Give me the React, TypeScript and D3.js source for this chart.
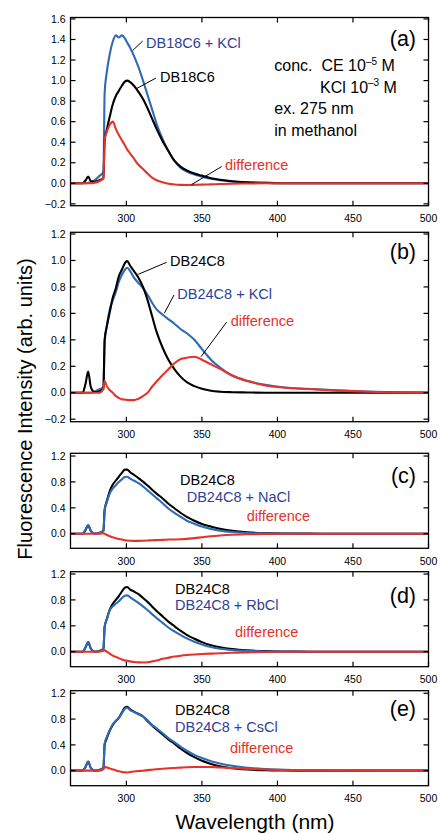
import React from "react";
import * as d3 from "d3";

// wavelength grid (nm) shared by every spectrum
const wavelengths = [263, 271, 273, 274.7, 276.5, 279, 282, 284.8, 285.6, 287, 289, 291, 293, 295, 297, 299, 300.5, 302.5, 305, 308, 311, 314, 317, 320, 324, 328, 332, 336, 340, 345, 350, 356, 362, 370, 380, 392, 405, 420, 440, 465, 500];

// (a) DB18C6 / DB18C6 + KCl
const aBlack = [0, 0, 0.03, 0.065, 0.02, 0.015, 0.03, 0.05, 0.42, 0.52, 0.65, 0.77, 0.85, 0.9, 0.95, 0.99, 1.0, 0.985, 0.95, 0.89, 0.82, 0.73, 0.63, 0.53, 0.41, 0.31, 0.215, 0.16, 0.125, 0.095, 0.075, 0.05, 0.035, 0.02, 0.01, 0.004, 0.001, 0, 0, 0, 0];
const aBlue = [0, 0, 0, 0.005, 0.01, 0.03, 0.07, 0.11, 0.88, 1.08, 1.26, 1.38, 1.44, 1.42, 1.44, 1.41, 1.37, 1.32, 1.24, 1.13, 1.0, 0.86, 0.72, 0.58, 0.43, 0.31, 0.215, 0.15, 0.115, 0.085, 0.065, 0.045, 0.03, 0.018, 0.009, 0.004, 0.001, 0, 0, 0, 0];
const aRed = [0, 0, 0, 0, 0, 0.005, 0.02, 0.05, 0.43, 0.5, 0.57, 0.6, 0.53, 0.47, 0.42, 0.37, 0.33, 0.29, 0.24, 0.18, 0.14, 0.095, 0.055, 0.03, 0.01, -0.005, -0.012, -0.015, -0.016, -0.015, -0.013, -0.01, -0.007, -0.004, -0.002, 0, 0, 0, 0, 0, 0];

// (b) DB24C8 / DB24C8 + KCl
const bBlack = [0, 0, 0.07, 0.16, 0.04, 0.005, 0.01, 0.03, 0.4, 0.5, 0.61, 0.72, 0.79, 0.88, 0.93, 0.98, 0.995, 0.96, 0.92, 0.87, 0.8, 0.7, 0.58, 0.46, 0.34, 0.245, 0.175, 0.12, 0.08, 0.05, 0.03, 0.015, 0.008, 0.004, 0.002, 0, 0, 0, 0, 0, 0];
const bBlue = [0, 0, 0, 0, 0, 0.01, 0.025, 0.045, 0.38, 0.5, 0.63, 0.7, 0.76, 0.84, 0.89, 0.93, 0.945, 0.92, 0.87, 0.83, 0.79, 0.74, 0.68, 0.63, 0.59, 0.555, 0.52, 0.48, 0.45, 0.4, 0.33, 0.25, 0.19, 0.13, 0.09, 0.06, 0.04, 0.03, 0.018, 0.007, 0.002];
const bRed = [0, 0, 0, 0, 0, 0, 0, 0.03, 0.09, 0.05, 0.02, 0, -0.025, -0.04, -0.05, -0.052, -0.054, -0.056, -0.056, -0.045, -0.025, 0, 0.045, 0.085, 0.134, 0.18, 0.225, 0.255, 0.265, 0.272, 0.25, 0.215, 0.18, 0.13, 0.088, 0.055, 0.038, 0.028, 0.016, 0.006, 0];

// (c) + NaCl
const cBlack = [0, 0, 0.06, 0.13, 0.04, 0, 0.01, 0.045, 0.37, 0.5, 0.66, 0.76, 0.82, 0.88, 0.94, 0.99, 0.99, 0.95, 0.91, 0.86, 0.805, 0.745, 0.68, 0.62, 0.545, 0.46, 0.39, 0.32, 0.26, 0.2, 0.15, 0.11, 0.075, 0.045, 0.022, 0.01, 0.004, 0.001, 0, 0, 0];
const cBlue = [0, 0, 0.07, 0.135, 0.045, 0.003, 0.012, 0.045, 0.36, 0.48, 0.62, 0.7, 0.75, 0.8, 0.84, 0.875, 0.88, 0.85, 0.82, 0.78, 0.73, 0.67, 0.61, 0.55, 0.47, 0.385, 0.32, 0.26, 0.2, 0.155, 0.11, 0.075, 0.048, 0.027, 0.012, 0.005, 0.002, 0, 0, 0, 0];
const cRed = [0, 0, 0, 0, 0, 0, 0, 0.005, 0, -0.02, -0.04, -0.055, -0.07, -0.08, -0.09, -0.1, -0.105, -0.108, -0.11, -0.11, -0.108, -0.105, -0.1, -0.098, -0.095, -0.09, -0.088, -0.085, -0.08, -0.068, -0.055, -0.04, -0.028, -0.016, -0.008, -0.003, -0.001, 0, 0, 0, 0];

// (d) + RbCl
const dBlack = [0, 0, 0.07, 0.15, 0.045, 0, 0.01, 0.04, 0.38, 0.5, 0.65, 0.74, 0.8, 0.86, 0.93, 0.99, 1.0, 0.96, 0.93, 0.89, 0.83, 0.77, 0.7, 0.63, 0.545, 0.46, 0.39, 0.32, 0.26, 0.2, 0.148, 0.1, 0.068, 0.04, 0.02, 0.008, 0.003, 0, 0, 0, 0];
const dBlue = [0, 0, 0.07, 0.15, 0.045, 0, 0.01, 0.04, 0.39, 0.5, 0.64, 0.7, 0.74, 0.78, 0.83, 0.865, 0.87, 0.84, 0.8, 0.755, 0.7, 0.645, 0.58, 0.52, 0.445, 0.37, 0.31, 0.255, 0.205, 0.155, 0.112, 0.072, 0.045, 0.025, 0.012, 0.004, 0.001, 0, 0, 0, 0];
const dRed = [0, 0, 0, 0, 0, 0, 0, 0.015, 0.02, 0, -0.03, -0.06, -0.08, -0.1, -0.12, -0.135, -0.14, -0.15, -0.16, -0.165, -0.166, -0.163, -0.15, -0.135, -0.11, -0.092, -0.075, -0.062, -0.052, -0.043, -0.036, -0.03, -0.025, -0.016, -0.01, -0.005, -0.002, 0, 0, 0, 0];

// (e) + CsCl
const eBlack = [0, 0, 0.06, 0.14, 0.04, 0, 0.01, 0.04, 0.4, 0.5, 0.62, 0.71, 0.77, 0.82, 0.9, 0.98, 0.99, 0.95, 0.915, 0.88, 0.84, 0.77, 0.7, 0.64, 0.56, 0.48, 0.415, 0.34, 0.275, 0.21, 0.155, 0.105, 0.068, 0.038, 0.018, 0.007, 0.002, 0, 0, 0, 0];
const eBlue = [0, 0, 0.06, 0.14, 0.04, 0, 0.01, 0.04, 0.42, 0.52, 0.63, 0.72, 0.77, 0.82, 0.89, 0.96, 0.975, 0.94, 0.91, 0.875, 0.84, 0.78, 0.71, 0.655, 0.58, 0.5, 0.44, 0.37, 0.31, 0.245, 0.195, 0.145, 0.11, 0.075, 0.045, 0.025, 0.012, 0.006, 0.002, 0, 0];
const eRed = [0, 0, 0, 0, 0, 0, 0, 0.02, 0.06, 0.05, 0.035, 0.02, 0.005, -0.01, -0.02, -0.025, -0.028, -0.02, -0.012, -0.005, 0, 0.008, 0.015, 0.022, 0.03, 0.037, 0.042, 0.047, 0.052, 0.056, 0.058, 0.056, 0.05, 0.04, 0.028, 0.018, 0.01, 0.005, 0.002, 0, 0];

const xTicks = [300, 350, 400, 450, 500];
const yTicksA = [-0.2, 0, 0.2, 0.4, 0.6, 0.8, 1.0, 1.2, 1.4, 1.6];
const yTicksB = [-0.2, 0, 0.2, 0.4, 0.6, 0.8, 1.0, 1.2];
const yTicksSmall = [0, 0.4, 0.8, 1.2];

const FONT = "'Liberation Sans', Arial, Helvetica, sans-serif";
const BLUE = "#2f6bb5";
const BLUE_TEXT = "#2e3f9c";
const RED = "#e5332a";
const X0 = 70.5;
const X1 = 428.5;
const TICK = 5;

const x = d3.scaleLinear().domain([263, 500]).range([X0, X1]);

const panels = [
  {
    tag: "(a)", top: 17.5, bottom: 205.7, yMin: -0.218, yMax: 1.614, yTicks: yTicksA, tagY: 45.5,
    lines: [["blue", aBlue], ["black", aBlack], ["red", aRed]],
    labels: [
      { t: "DB18C6 + KCl", x: 146, y: 47.5, c: BLUE_TEXT, lead: [142.7, 41, 132.7, 50.5] },
      { t: "DB18C6", x: 160, y: 81.5, c: "#000", lead: [156, 78, 136.7, 88.5] },
      { t: "difference", x: 225, y: 170, c: RED, lead: [221.7, 166.5, 191.7, 184.5] },
    ],
  },
  {
    tag: "(b)", top: 232.3, bottom: 421.7, yMin: -0.219, yMax: 1.213, yTicks: yTicksB, tagY: 259,
    lines: [["blue", bBlue], ["black", bBlack], ["red", bRed]],
    labels: [
      { t: "DB24C8", x: 170, y: 266, c: "#000", lead: [166.7, 262.3, 138.3, 274.3] },
      { t: "DB24C8 + KCl", x: 177.3, y: 298.5, c: BLUE_TEXT, lead: [174, 295, 164.3, 313.3] },
      { t: "difference", x: 230.7, y: 326, c: RED, lead: [226.7, 322, 201, 356.7] },
    ],
  },
  {
    tag: "(c)", top: 453.3, bottom: 548.3, yMin: -0.225, yMax: 1.242, yTicks: yTicksSmall, tagY: 483,
    lines: [["black", cBlack], ["blue", cBlue], ["red", cRed]],
    labels: [
      { t: "DB24C8", x: 180, y: 484.5, c: "#000" },
      { t: "DB24C8 + NaCl", x: 186.7, y: 502, c: BLUE_TEXT },
      { t: "difference", x: 246.7, y: 521, c: RED },
    ],
  },
  {
    tag: "(d)", top: 571.7, bottom: 666.7, yMin: -0.232, yMax: 1.236, yTicks: yTicksSmall, tagY: 602.5,
    lines: [["black", dBlack], ["blue", dBlue], ["red", dRed]],
    labels: [
      { t: "DB24C8", x: 175, y: 593.5, c: "#000" },
      { t: "DB24C8 + RbCl", x: 175, y: 610, c: BLUE_TEXT },
      { t: "difference", x: 235, y: 637, c: RED },
    ],
  },
  {
    tag: "(e)", top: 690.7, bottom: 785.7, yMin: -0.233, yMax: 1.24, yTicks: yTicksSmall, tagY: 715.5,
    lines: [["black", eBlack], ["blue", eBlue], ["red", eRed]],
    labels: [
      { t: "DB24C8", x: 175, y: 714.5, c: "#000" },
      { t: "DB24C8 + CsCl", x: 175, y: 732, c: BLUE_TEXT },
      { t: "difference", x: 230, y: 753, c: RED },
    ],
  },
];

const colorOf = { black: "#000", blue: BLUE, red: RED };

function Panel({ p }) {
  const y = d3.scaleLinear().domain([p.yMin, p.yMax]).range([p.bottom, p.top]);
  const fmt = d3.format(".1f");
  return (
    <g>
      <defs>
        <clipPath id={"clip" + p.tag}>
          <rect x={X0} y={p.top} width={X1 - X0} height={p.bottom - p.top} />
        </clipPath>
      </defs>
      <g clipPath={`url(#clip${p.tag})`}>
        {p.lines.map(([name, vals]) => {
          const line = d3
            .line()
            .x((d, i) => x(wavelengths[i]))
            .y((d) => y(d))
            .curve(d3.curveMonotoneX);
          return (
            <path key={name} d={line(vals)} fill="none" stroke={colorOf[name]} strokeWidth={2.1} strokeLinejoin="round" />
          );
        })}
      </g>
      <rect x={X0} y={p.top} width={X1 - X0} height={p.bottom - p.top} fill="none" stroke="#000" strokeWidth={1.3} />
      {xTicks.map((t) => (
        <g key={"x" + t}>
          <line x1={x(t)} x2={x(t)} y1={p.bottom} y2={p.bottom - TICK} stroke="#000" strokeWidth={1.2} />
          <line x1={x(t)} x2={x(t)} y1={p.top} y2={p.top + TICK} stroke="#000" strokeWidth={1.2} />
          <text x={x(t)} y={p.bottom + 16.5} textAnchor="middle" fontSize={10.5} fontFamily={FONT}>{t}</text>
        </g>
      ))}
      {p.yTicks.map((t) => (
        <g key={"y" + t}>
          <line x1={X0} x2={X0 + TICK} y1={y(t)} y2={y(t)} stroke="#000" strokeWidth={1.2} />
          <line x1={X1} x2={X1 - TICK} y1={y(t)} y2={y(t)} stroke="#000" strokeWidth={1.2} />
          <text x={X0 - 5} y={y(t)} dy="0.35em" textAnchor="end" fontSize={10.5} fontFamily={FONT}>{fmt(t)}</text>
        </g>
      ))}
      <text x={416} y={p.tagY} textAnchor="end" fontSize={21.5} fontFamily={FONT}>{p.tag}</text>
      {p.labels.map((l) => (
        <g key={l.t}>
          <text x={l.x} y={l.y} fill={l.c} fontSize={14.5} fontFamily={FONT}>{l.t}</text>
          {l.lead && (
            <line x1={l.lead[0]} y1={l.lead[1]} x2={l.lead[2]} y2={l.lead[3]} stroke="#000" strokeWidth={1} />
          )}
        </g>
      ))}
    </g>
  );
}

export default function App() {
  return (
    <svg width={438} height={834} style={{ position: "absolute", left: 0, top: 0, background: "#fff" }}>
      <rect width={438} height={834} fill="#fff" />
      {panels.map((p) => (
        <Panel key={p.tag} p={p} />
      ))}
      <g fontFamily={FONT} fontSize={16}>
        <text x={274.3} y={71} xmlSpace="preserve">
          {"conc.  CE 10"}
          <tspan fontSize={10} dy={-6.5}>{"\u20135"}</tspan>
          <tspan dy={6.5}>{" M"}</tspan>
        </text>
        <text x={320} y={92.5} xmlSpace="preserve">
          {"KCl 10"}
          <tspan fontSize={10} dy={-6.5}>{"\u20133"}</tspan>
          <tspan dy={6.5}>{" M"}</tspan>
        </text>
        <text x={274.3} y={114}>ex. 275 nm</text>
        <text x={274.3} y={135.5}>in methanol</text>
      </g>
      <text x={255} y={829} textAnchor="middle" fontSize={21} fontFamily={FONT}>Wavelength (nm)</text>
      <text transform="translate(32,409) rotate(-90)" textAnchor="middle" fontSize={20} fontFamily={FONT}>
        Fluorescence Intensity (arb. units)
      </text>
    </svg>
  );
}
